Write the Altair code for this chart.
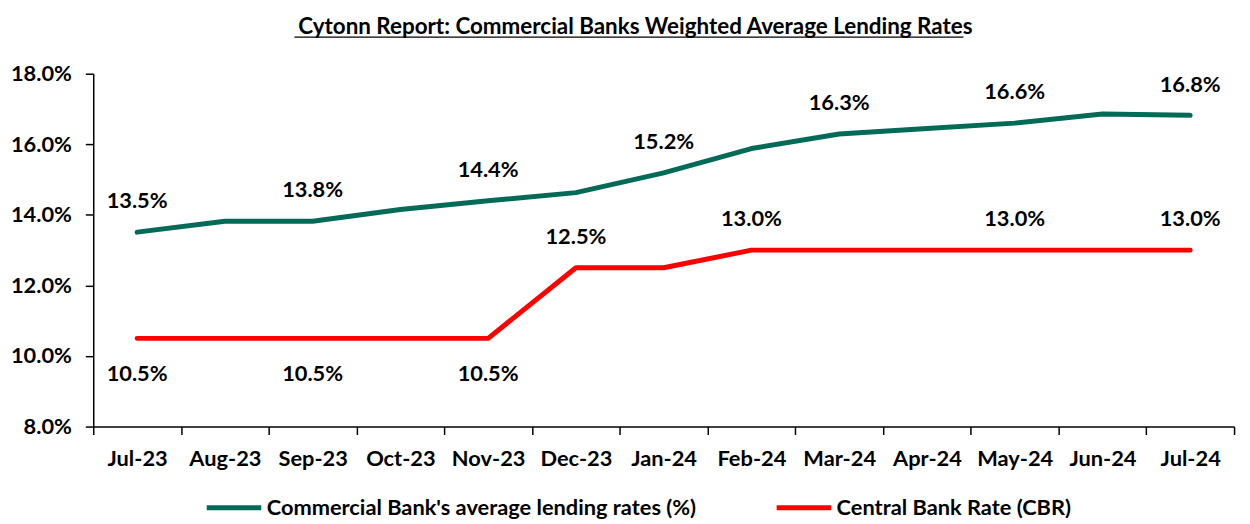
import altair as alt
import pandas as pd

months = ["Jul-23", "Aug-23", "Sep-23", "Oct-23", "Nov-23", "Dec-23", "Jan-24",
          "Feb-24", "Mar-24", "Apr-24", "May-24", "Jun-24", "Jul-24"]
lending = [13.51, 13.82, 13.82, 14.15, 14.40, 14.63, 15.19, 15.88, 16.29, 16.45, 16.60, 16.86, 16.82]
cbr = [10.5, 10.5, 10.5, 10.5, 10.5, 12.5, 12.5, 13.0, 13.0, 13.0, 13.0, 13.0, 13.0]
series_names = ["Commercial Bank's average lending rates (%)", "Central Bank Rate (CBR)"]
series_colors = ["#046A58", "#FF0000"]
lending_labelled = ["Jul-23", "Sep-23", "Nov-23", "Jan-24", "Mar-24", "May-24", "Jul-24"]
cbr_labelled_above = ["Dec-23", "Feb-24", "May-24", "Jul-24"]
cbr_labelled_below = ["Jul-23", "Sep-23", "Nov-23"]
y_ticks = [8, 10, 12, 14, 16, 18]
title_text = "Cytonn Report: Commercial Banks Weighted Average Lending Rates"

FONT = "Lato"
FS = 22

rows = []
for m, v in zip(months, lending):
    rows.append({"month": m, "value": v, "series": series_names[0],
                 "pos": "above" if m in lending_labelled else None})
for m, v in zip(months, cbr):
    pos = None
    if m in cbr_labelled_above:
        pos = "above"
    elif m in cbr_labelled_below:
        pos = "below"
    rows.append({"month": m, "value": v, "series": series_names[1], "pos": pos})
df = pd.DataFrame(rows)

x = alt.X("month:N", sort=months,
          scale=alt.Scale(type="band", paddingInner=0, paddingOuter=0),
          axis=alt.Axis(title=None, labelAngle=0, tickBand="extent", labelPadding=14))
y = alt.Y("value:Q", scale=alt.Scale(domain=[8, 18], nice=False, zero=False),
          axis=alt.Axis(title=None, values=y_ticks, labelPadding=14,
                        labelExpr="format(datum.value, '.1f') + '%'"))
color = alt.Color("series:N", sort=series_names,
                  scale=alt.Scale(domain=series_names, range=series_colors),
                  legend=alt.Legend(title=None, orient="none", direction="horizontal",
                                    legendX=112, legendY=408,
                                    symbolType="stroke", symbolSize=3025,
                                    symbolStrokeWidth=5, labelFont=FONT,
                                    labelFontSize=FS, labelFontWeight="bold",
                                    labelColor="black", columnPadding=70,
                                    labelOffset=3, labelLimit=700))

base = alt.Chart(df)

lines = base.mark_line(strokeWidth=5, strokeCap="round", strokeJoin="round").encode(
    x=x, y=y, color=color, detail="series:N")

lbl_above = base.transform_filter("datum.pos == 'above'").transform_calculate(
    lab="format(datum.value, '.1f') + '%'").mark_text(
    dy=-31, font=FONT, fontSize=FS, fontWeight="bold", color="black").encode(
    x=x, y=y, text="lab:N")

lbl_below = base.transform_filter("datum.pos == 'below'").transform_calculate(
    lab="format(datum.value, '.1f') + '%'").mark_text(
    dy=36, font=FONT, fontSize=FS, fontWeight="bold", color="black").encode(
    x=x, y=y, text="lab:N")

title_df = pd.DataFrame({"t": [title_text]})
title_mark = alt.Chart(title_df).mark_text(
    font=FONT, fontSize=22.6, fontWeight="bold", color="black",
    align="center", baseline="middle").encode(
    x=alt.value(547), y=alt.value(-47), text="t:N")

underline = alt.Chart(title_df).mark_rule(
    color="black", strokeWidth=1.3).encode(
    x=alt.value(203), x2=alt.value(878), y=alt.value(-37))

chart = alt.layer(lines, lbl_above, lbl_below, title_mark, underline).properties(
    width=1151, height=356,
    autosize=alt.AutoSizeParams(type="none"),
    padding={"left": 86, "top": 64, "right": 8, "bottom": 96},
).configure_view(stroke=None).configure_axis(
    grid=False, domainColor="black", domainWidth=1.5, tickColor="black",
    tickWidth=1.5, tickSize=8, labelFont=FONT, labelFontSize=FS,
    labelFontWeight="bold", labelColor="black")

chart.save("out.html", embed_options={"renderer": "svg", "actions": False})
